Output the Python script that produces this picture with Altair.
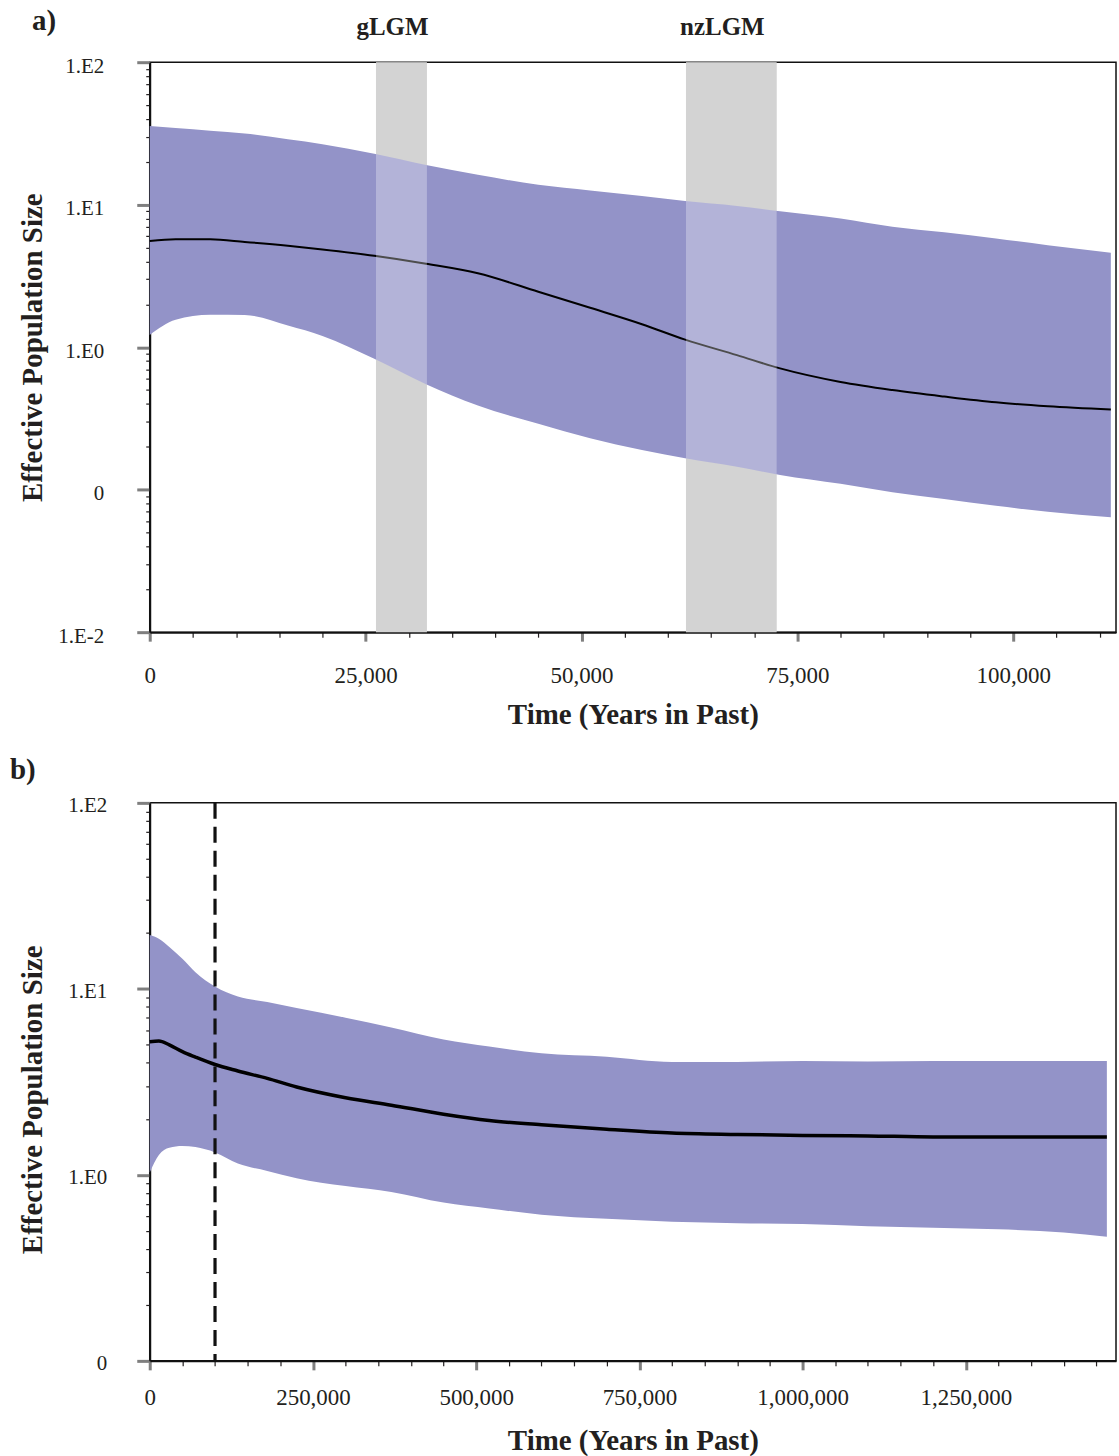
import altair as alt
import pandas as pd

# ---------------- Panel a data ----------------
a_years = [0, 3000, 7000, 11000, 16000, 20000, 26000, 32000, 38000, 45000, 51000,
           57000, 62000, 68000, 73000, 80000, 86000, 92000, 98000, 104000, 111300]
a_upper = [35.6, 34.5, 33.0, 31.6, 28.8, 26.6, 22.8, 19.0, 16.2, 13.8, 12.6,
           11.5, 10.6, 9.8, 9.0, 8.0, 7.0, 6.4, 5.8, 5.2, 4.6]
a_median = [5.57, 5.72, 5.72, 5.48, 5.15, 4.85, 4.38, 3.85, 3.3, 2.45, 1.89,
            1.45, 1.13, 0.88, 0.71, 0.57, 0.50, 0.45, 0.41, 0.385, 0.365]
a_lower = [1.22, 1.56, 1.69, 1.68, 1.42, 1.2, 0.83, 0.55, 0.39, 0.29, 0.23,
           0.19, 0.166, 0.145, 0.127, 0.11, 0.096, 0.086, 0.077, 0.07, 0.064]

lgm_names = ["gLGM", "nzLGM"]
lgm_start = [26200, 62100]
lgm_end = [32100, 72600]

# ---------------- Panel b data ----------------
b_years = [0, 14000, 30000, 50000, 70000, 100000, 135000, 180000, 225000, 300000,
           370000, 450000, 520000, 600000, 700000, 800000, 900000, 1000000,
           1100000, 1200000, 1300000, 1400000, 1466000]
b_upper = [19.5, 18.6, 16.8, 14.5, 12.3, 10.3, 9.1, 8.5, 7.9, 7.0,
           6.2, 5.35, 4.9, 4.5, 4.32, 4.05, 4.05, 4.1,
           4.07, 4.1, 4.1, 4.1, 4.1]
b_median = [5.19, 5.25, 5.0, 4.6, 4.3, 3.92, 3.62, 3.3, 2.97, 2.6,
            2.37, 2.12, 1.96, 1.86, 1.76, 1.68, 1.65, 1.63,
            1.62, 1.60, 1.60, 1.60, 1.60]
b_lower = [1.03, 1.28, 1.40, 1.43, 1.41, 1.32, 1.15, 1.05, 0.96, 0.87,
           0.81, 0.71, 0.66, 0.61, 0.58, 0.56, 0.55, 0.545,
           0.53, 0.52, 0.51, 0.49, 0.465]

b_marker_years = [100000]
panel_tags = ["a)", "b)"]

# tick positions (major + minor)
a_xticks = list(range(0, 112000, 5000))
b_xticks = list(range(0, 1480001, 50000))
a_yticks = [round(m * 10 ** e, 6) for e in (-2, -1, 0, 1) for m in range(1, 10)] + [100]
b_yticks = [round(m * 10 ** e, 6) for e in (-1, 0, 1) for m in range(1, 10)] + [100]

FONT = "Liberation Serif"
INK = "#231f20"
PURPLE = "#9393c8"
BAND_GRAY = "#c0c0c0"
TICK_GRAY = "#7f7f7f"

dfa = pd.DataFrame({"year": a_years, "upper": a_upper, "median": a_median, "lower": a_lower})
dfb = pd.DataFrame({"year": b_years, "upper": b_upper, "median": b_median, "lower": b_lower})
dfl = pd.DataFrame({"name": lgm_names, "start": lgm_start, "end": lgm_end})
dfl["mid"] = (dfl["start"] + dfl["end"]) / 2
dfm = pd.DataFrame({"year": b_marker_years})
dft_a = pd.DataFrame({"t": [panel_tags[0]]})
dft_b = pd.DataFrame({"t": [panel_tags[1]]})


def x_axis(values, major, pad, title_y):
    test = f"datum.value % {major} === 0"
    return alt.Axis(
        values=values,
        title="Time (Years in Past)",
        labelExpr=f"{test} ? format(datum.value, ',') : ''",
        tickSize={"condition": {"test": test, "value": 9}, "value": 5},
        tickColor={"condition": {"test": test, "value": TICK_GRAY}, "value": INK},
        tickWidth={"condition": {"test": test, "value": 3}, "value": 1.2},
        labelPadding=pad,
        labelFont=FONT, labelFontSize=23, labelColor=INK,
        labelFlush=False, labelOverlap=False, grid=False,
        domainColor="#111111", domainWidth=2,
        titleFont=FONT, titleFontSize=29, titleFontWeight="bold", titleColor=INK,
        titleBaseline="alphabetic", titleY=title_y,
    )


MAJ_Y = "abs(log(datum.value)/LN10 - round(log(datum.value)/LN10)) < 0.001"
Y_LABEL = (f"{MAJ_Y} ? (datum.value > 50 ? '1.E2' : datum.value > 5 ? '1.E1' : "
           "datum.value > 0.5 ? '1.E0' : datum.value > 0.05 ? '0' : '1.E-2') : ''")


def y_axis(values, pad, offset, title_y):
    return alt.Axis(
        values=values,
        title="Effective Population Size",
        labelExpr=Y_LABEL,
        tickSize={"condition": {"test": MAJ_Y, "value": 13}, "value": 4},
        tickColor={"condition": {"test": MAJ_Y, "value": TICK_GRAY}, "value": INK},
        tickWidth={"condition": {"test": MAJ_Y, "value": 3}, "value": 1.2},
        labelPadding=pad, labelOffset=offset,
        labelFont=FONT, labelFontSize=21, labelColor=INK,
        labelFlush=False, labelOverlap=False, labelBaseline="middle", grid=False,
        domainColor="#111111", domainWidth=2,
        titleFont=FONT, titleFontSize=29, titleFontWeight="bold", titleColor=INK,
        titleAngle=-90, titleAlign="center", titleBaseline="middle",
        titleX=-117, titleY=title_y,
    )


W = 968
HA, HB = 571, 559

# ---------------- Panel a ----------------
xa_scale = alt.Scale(domain=[0, 111900], nice=False, zero=False)
ya_scale = alt.Scale(type="log", domain=[0.01, 100], nice=False)
xa_axis = x_axis(a_xticks, 25000, 23, 91)
ya_axis = y_axis(a_yticks, 33, 4, HA / 2)

XA = lambda f: alt.X(f, scale=xa_scale, axis=xa_axis)
YA = lambda f: alt.Y(f, scale=ya_scale, axis=ya_axis)

a_bands = alt.Chart(dfl).mark_rect(color=BAND_GRAY).encode(
    x=XA("start:Q"), x2="end:Q")
a_area = alt.Chart(dfa).mark_area(color=PURPLE, interpolate="monotone").encode(
    x=XA("year:Q"), y=YA("lower:Q"), y2="upper:Q")
a_line = alt.Chart(dfa).mark_line(color="#000000", strokeWidth=2, interpolate="monotone").encode(
    x=XA("year:Q"), y=YA("median:Q"))
a_veil = alt.Chart(dfl).mark_rect(color="#ffffff", opacity=0.3).encode(
    x=XA("start:Q"), x2="end:Q")
a_names = alt.Chart(dfl).mark_text(
    font=FONT, fontSize=25, fontWeight="bold", color=INK, baseline="alphabetic",
    align="center", dx=-9).encode(
    x=XA("mid:Q"), y=alt.value(-27), text="name:N")
a_tag = alt.Chart(dft_a).mark_text(
    font=FONT, fontSize=29, fontWeight="bold", color=INK, baseline="alphabetic",
    align="left").encode(x=alt.value(-118), y=alt.value(-32), text="t:N")

panel_a = alt.layer(a_bands, a_area, a_line, a_veil, a_names, a_tag).properties(
    width=W, height=HA)

# ---------------- Panel b ----------------
xb_scale = alt.Scale(domain=[0, 1480000], nice=False, zero=False)
yb_scale = alt.Scale(type="log", domain=[0.1, 100], nice=False)
xb_axis = x_axis(b_xticks, 250000, 17, 89)
yb_axis = y_axis(b_yticks, 30, 3, 297)

XB = lambda f: alt.X(f, scale=xb_scale, axis=xb_axis)
YB = lambda f: alt.Y(f, scale=yb_scale, axis=yb_axis)

b_area = alt.Chart(dfb).mark_area(color=PURPLE, interpolate="monotone").encode(
    x=XB("year:Q"), y=YB("lower:Q"), y2="upper:Q")
b_line = alt.Chart(dfb).mark_line(color="#000000", strokeWidth=3.5, interpolate="monotone").encode(
    x=XB("year:Q"), y=YB("median:Q"))
b_rule = alt.Chart(dfm).mark_rule(color="#111111", strokeWidth=3.2, strokeDash=[16, 8]).encode(
    x=XB("year:Q"))
b_tag = alt.Chart(dft_b).mark_text(
    font=FONT, fontSize=29, fontWeight="bold", color=INK, baseline="alphabetic",
    align="left").encode(x=alt.value(-140), y=alt.value(-24), text="t:N")

panel_b = alt.layer(b_area, b_line, b_rule, b_tag).properties(width=W, height=HB)

chart = alt.vconcat(panel_a, panel_b, spacing=25).properties(
    padding={"left": 9, "top": 5, "right": 2, "bottom": 0},
    background="white",
).configure_view(stroke="#111111", strokeWidth=1.5)

chart.save("out.html", embed_options={"renderer": "svg", "actions": False})
